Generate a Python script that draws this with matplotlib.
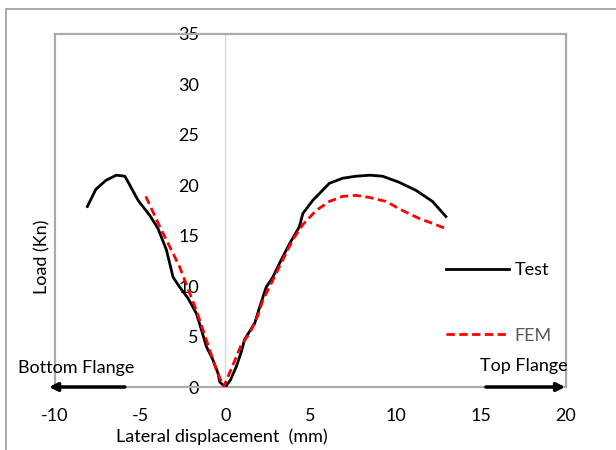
import matplotlib
matplotlib.use("Agg")
import matplotlib.pyplot as plt
from matplotlib.lines import Line2D
from matplotlib.patches import Rectangle

plt.rcParams['font.family'] = ['Lato', 'DejaVu Sans']

# Test (experimental) load-displacement curve
test_x = [-8.1, -7.6, -7.0, -6.4, -5.9, -5.7, -5.12, -4.43, -3.95, -3.46, -3.07,
          -2.68, -2.19, -1.7, -1.4, -1.11, -0.73, -0.43, -0.33, 0.0,
          0.3, 0.64, 0.94, 1.13, 1.42, 1.72, 2.01, 2.40, 2.79, 3.28, 3.77,
          4.35, 4.55, 5.13, 6.11, 6.89, 7.67, 8.5, 9.23, 10.2, 11.19, 12.16, 12.95]
test_y = [17.9, 19.6, 20.5, 21.0, 20.9, 20.3, 18.5, 17.0, 15.7, 13.6, 10.9,
          9.9, 8.8, 7.3, 5.65, 4.0, 2.7, 1.36, 0.5, 0.0,
          0.7, 2.0, 3.5, 4.7, 5.5, 6.3, 7.9, 9.9, 10.9, 12.6, 14.2,
          15.9, 17.2, 18.5, 20.2, 20.7, 20.9, 21.0, 20.9, 20.3, 19.5, 18.4, 16.9]

# FEM prediction
fem_x = [-4.67, -3.85, -3.26, -2.68, -2.09, -1.7, -1.31, -0.92, -0.53, -0.1,
         0.45, 0.94, 1.42, 1.91, 2.2, 2.79, 3.37, 3.96, 4.55, 5.33, 6.11,
         6.89, 7.67, 8.45, 9.43, 10.4, 11.4, 12.2, 12.95]
fem_y = [18.9, 15.9, 13.9, 11.9, 9.3, 7.6, 5.65, 3.67, 1.7, 0.0,
         2.2, 4.2, 5.3, 7.1, 8.6, 10.6, 12.6, 14.6, 16.1, 17.5, 18.4,
         18.9, 19.0, 18.8, 18.4, 17.5, 16.7, 16.2, 15.7]

x_ticks = [-10, -5, 0, 5, 10, 15, 20]
y_ticks = [0, 5, 10, 15, 20, 25, 30, 35]

W, H = 616, 450
FS = 13
fig = plt.figure(figsize=(W / 100, H / 100), dpi=100)

# chart area border (left and top edges visible)
fig.patches.append(Rectangle((6 / W, -0.5), 2.0, (H - 9) / H + 0.5,
                             transform=fig.transFigure, fill=False,
                             edgecolor='#9a9a9a', linewidth=1.2))

ax = fig.add_axes([55 / W, (H - 387) / H, 511 / W, 353 / H])
ax.set_xlim(-10, 20)
ax.set_ylim(0, 35)

box = '#ababab'
for side in ['top', 'right', 'bottom']:
    ax.spines[side].set_color(box)
    ax.spines[side].set_linewidth(1.6)
ax.spines['left'].set_position(('data', 0))
ax.spines['left'].set_color('#d9d9d9')
ax.spines['left'].set_linewidth(1.0)
ax.axvline(-10, color=box, linewidth=1.6, clip_on=False)

ax.set_xticks(x_ticks)
ax.set_yticks(y_ticks)
ax.set_xticklabels([str(v) for v in x_ticks])
ax.set_yticklabels([str(v) for v in y_ticks])
ax.tick_params(axis='both', length=0, labelsize=FS, labelcolor='#000000')
ax.tick_params(axis='x', pad=15)
ax.tick_params(axis='y', pad=19)

ax.plot(test_x, test_y, color='black', linewidth=2.0, solid_joinstyle='round',
        zorder=3)
ax.plot(fem_x, fem_y, color='#ff0000', linewidth=2.0, linestyle=(0, (3, 1.6)),
        zorder=4)

fig.text(222 / W, 1 - 437 / H, 'Lateral displacement  (mm)', fontsize=FS,
         ha='center', va='center')
fig.text(42 / W, 1 - 257 / H, 'Load (Kn)', rotation=90, fontsize=FS,
         ha='center', va='center')

# direction arrows along the x axis
ax.annotate('', xy=(-10.35, 0), xytext=(-5.9, 0),
            arrowprops=dict(arrowstyle='-|>', color='black', lw=2.5,
                            mutation_scale=12, shrinkA=0, shrinkB=0),
            annotation_clip=False)
ax.annotate('', xy=(19.95, 0), xytext=(15.3, 0),
            arrowprops=dict(arrowstyle='-|>', color='black', lw=2.5,
                            mutation_scale=12, shrinkA=0, shrinkB=0),
            annotation_clip=False)
ax.text(-8.77, 1.9, 'Bottom Flange', fontsize=FS, ha='center', va='center')
ax.text(17.5, 2.1, 'Top Flange', fontsize=FS, ha='center', va='center')

# legend
handles = [Line2D([], [], color='black', linewidth=2.0),
           Line2D([], [], color='#ff0000', linewidth=2.0, linestyle=(0, (3, 1.6)))]
leg = ax.legend(handles, ['Test', 'FEM'], loc='upper left',
                bbox_to_anchor=((446 - 55) / 511, (387 - 262) / 353),
                frameon=False, fontsize=FS, handlelength=3.5, handletextpad=0.3,
                labelspacing=2.75, borderpad=0, borderaxespad=0)
leg.get_texts()[1].set_color('#595959')

fig.savefig('out.png', dpi=100)
